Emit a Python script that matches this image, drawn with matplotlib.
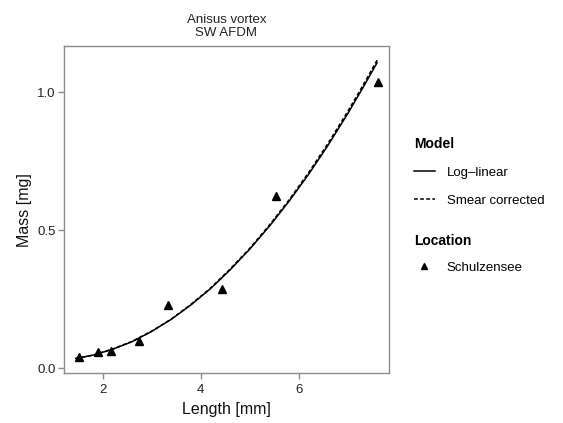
import numpy as np
import matplotlib.pyplot as plt
from matplotlib.lines import Line2D

plt.rcParams['font.family'] = ['Liberation Sans', 'DejaVu Sans']

# observed points (Schulzensee)
length = [1.52, 1.90, 2.16, 2.75, 3.34, 4.43, 5.53, 7.62]
mass = [0.042, 0.060, 0.062, 0.101, 0.228, 0.288, 0.624, 1.038]

# model curves
curve_x = [1.45, 1.8, 2.2, 2.6, 3.0, 3.4, 3.8, 4.2, 4.6, 5.0, 5.4, 5.8, 6.2, 6.6, 7.0, 7.3, 7.6]
loglin_y = [0.036, 0.048, 0.069, 0.097, 0.134, 0.178, 0.230, 0.289, 0.357, 0.432,
            0.515, 0.605, 0.703, 0.809, 0.923, 1.014, 1.108]
smear_y = [0.036, 0.048, 0.070, 0.098, 0.135, 0.179, 0.232, 0.291, 0.360, 0.435,
           0.519, 0.610, 0.709, 0.816, 0.931, 1.022, 1.117]

fig = plt.figure(figsize=(5.63, 4.23), dpi=100)
ax = fig.add_axes([0.1137, 0.118, 0.577, 0.773])

ax.plot(curve_x, loglin_y, color='black', lw=1.1, ls='-')
ax.plot(curve_x, smear_y, color='black', lw=1.1, ls=(0, (2.5, 1.5)))
ax.plot(length, mass, '^', color='black', markersize=5.5, ls='none')

ax.set_xlim(1.21, 7.84)
ax.set_ylim(-0.017, 1.168)
ax.set_xticks([2, 4, 6])
ax.set_yticks([0.0, 0.5, 1.0])
ax.set_yticklabels(['0.0', '0.5', '1.0'])

frame_col = '#8c8c8c'
for s in ax.spines.values():
    s.set_color(frame_col)
    s.set_linewidth(1.0)
ax.tick_params(direction='out', length=4, width=1, color=frame_col,
               labelsize=9.5, labelcolor='#222222')
ax.tick_params(axis='x', pad=4)
ax.tick_params(axis='y', pad=2)

ax.set_xlabel('Length [mm]', fontsize=11.5, color='#111111', labelpad=4)
ax.set_ylabel('Mass [mg]', fontsize=11.5, color='#111111', labelpad=4)
ax.set_title('Anisus vortex\nSW AFDM', fontsize=9.5, color='#222222',
             linespacing=1.2, pad=7)

model_handles = [Line2D([], [], color='black', lw=1.1, ls='-'),
                 Line2D([], [], color='black', lw=1.1, ls=(0, (2.5, 1.5)))]
leg1 = fig.legend(model_handles, ['Log\u2013linear', 'Smear corrected'],
                  title='Model', loc='upper left', bbox_to_anchor=(0.714, 0.705),
                  frameon=False, fontsize=9.5, title_fontsize=10,
                  alignment='left', handlelength=1.6, handletextpad=0.9,
                  labelspacing=1.2)
leg1.get_title().set_fontweight('bold')

loc_handles = [Line2D([], [], color='black', marker='^', markersize=5, ls='none')]
leg2 = fig.legend(loc_handles, ['Schulzensee'], title='Location',
                  loc='upper left', bbox_to_anchor=(0.714, 0.474),
                  frameon=False, fontsize=9.5, title_fontsize=10,
                  alignment='left', handlelength=1.6, handletextpad=0.9,
                  labelspacing=1.0)
leg2.get_title().set_fontweight('bold')

fig.savefig('out.png', dpi=100)
